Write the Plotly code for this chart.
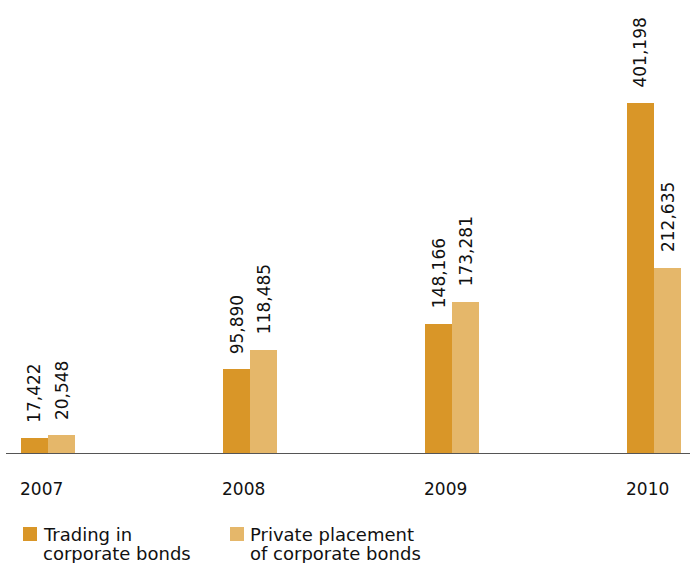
import plotly.graph_objects as go

# Corporate bond volumes by year
years = ["2007", "2008", "2009", "2010"]
trading = [17422, 95890, 148166, 401198]
private_placement = [20548, 118485, 173281, 212635]
series_labels = [["Trading in", "corporate bonds"], ["Private placement", "of corporate bonds"]]
series_colors = ["#D99628", "#E5B76A"]

FONT = "DejaVu Sans"
W, H = 690, 563
ML, MR, MT, MB = 6, 0, 0, 110
plot_w = W - ML - MR
plot_h = H - MT - MB

BAR_W = 27 / 202          # bar width in category units
x_pos = list(range(len(years)))


def px_x(px):
    return (px - ML) / plot_w


def px_y(py):
    return (H - MB - py) / plot_h


fig = go.Figure()
for vals, name, col, off in [
    (trading, " ".join(series_labels[0]), series_colors[0], -BAR_W),
    (private_placement, " ".join(series_labels[1]), series_colors[1], 0.0),
]:
    fig.add_trace(go.Bar(
        x=x_pos, y=vals, name=name, width=BAR_W, offset=off,
        marker=dict(color=col, line=dict(width=0)), showlegend=False,
    ))
    for xi, v in zip(x_pos, vals):
        fig.add_annotation(
            x=xi + off + BAR_W / 2, y=v, text=f"{v:,}", showarrow=False,
            textangle=-90, xanchor="center", yanchor="bottom", yshift=13,
            font=dict(family=FONT, size=17, color="#111"),
        )

# year labels, left-aligned under each bar group
for xi, yr in zip(x_pos, years):
    fig.add_annotation(
        x=xi - BAR_W, xanchor="left", xshift=-3, y=0, yref="paper",
        yanchor="top", yshift=-24, text=yr, showarrow=False,
        font=dict(family=FONT, size=17, color="#111"),
    )

# legend: colour swatch plus a two-line label
legend_x = [23, 230]
for lx, lines, col in zip(legend_x, series_labels, series_colors):
    fig.add_shape(
        type="rect", xref="paper", yref="paper",
        x0=px_x(lx), x1=px_x(lx + 14), y0=px_y(527), y1=px_y(541),
        fillcolor=col, line=dict(width=0),
    )
    for k, line in enumerate(lines):
        fig.add_annotation(
            x=px_x(lx + 19), xanchor="left", y=px_y(523 + 19 * k), yanchor="top",
            xref="paper", yref="paper", text=line, align="left", showarrow=False,
            borderpad=0, font=dict(family=FONT, size=18, color="#111"),
        )

fig.update_layout(
    width=W, height=H,
    margin=dict(l=ML, r=MR, t=MT, b=MB),
    paper_bgcolor="white", plot_bgcolor="white",
    bargap=0, barmode="overlay",
    xaxis=dict(range=[-42 / 202, 642 / 202], showgrid=False, zeroline=False,
               showticklabels=False, ticks="", showline=True,
               linecolor="#555", linewidth=1),
    yaxis=dict(range=[0, 519300], visible=False, showgrid=False, zeroline=False),
)

fig.write_html("out.html")
